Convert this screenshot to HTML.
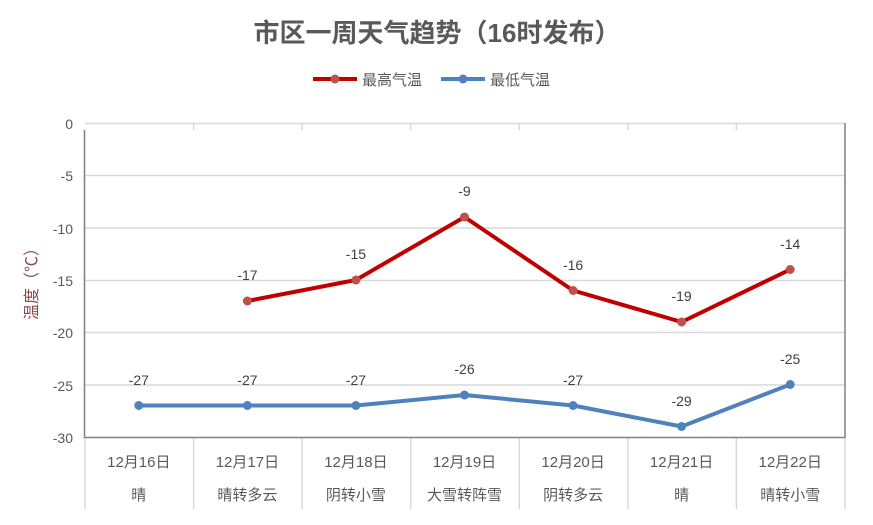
<!DOCTYPE html>
<html><head><meta charset="utf-8"><style>
body{margin:0;background:#fff}
svg text{font-family:"Liberation Sans","Noto Sans CJK SC",sans-serif}
</style></head><body>
<svg width="873" height="520" xmlns="http://www.w3.org/2000/svg">
<rect width="873" height="520" fill="#fff"/>
<text x="437" y="42" text-anchor="middle" font-size="26" fill="#595959" font-weight="bold">市区一周天气趋势（16时发布）</text>
<line x1="313" y1="79" x2="357" y2="79" stroke="#c00000" stroke-width="4"/>
<circle cx="335" cy="79" r="4.5" fill="#c0504d"/>
<text x="362" y="85" font-size="15" fill="#595959">最高气温</text>
<line x1="441" y1="79" x2="485" y2="79" stroke="#4f81bd" stroke-width="4"/>
<circle cx="463" cy="79" r="4.5" fill="#4f81bd"/>
<text x="490" y="85" font-size="15" fill="#595959">最低气温</text>
<g stroke="#d9d9d9" stroke-width="1.5">
<line x1="85" y1="123.5" x2="845" y2="123.5"/>
<line x1="85" y1="175.5" x2="845" y2="175.5"/>
<line x1="85" y1="228" x2="845" y2="228"/>
<line x1="85" y1="280.5" x2="845" y2="280.5"/>
<line x1="85" y1="332.5" x2="845" y2="332.5"/>
<line x1="85" y1="385" x2="845" y2="385"/>
<g>
<line x1="193.6" y1="123" x2="193.6" y2="130"/><line x1="302.1" y1="123" x2="302.1" y2="130"/><line x1="410.7" y1="123" x2="410.7" y2="130"/><line x1="519.3" y1="123" x2="519.3" y2="130"/><line x1="627.9" y1="123" x2="627.9" y2="130"/><line x1="736.4" y1="123" x2="736.4" y2="130"/>
<line x1="85" y1="438" x2="85" y2="509"/><line x1="193.6" y1="438" x2="193.6" y2="509"/><line x1="302.1" y1="438" x2="302.1" y2="509"/><line x1="410.7" y1="438" x2="410.7" y2="509"/><line x1="519.3" y1="438" x2="519.3" y2="509"/><line x1="627.9" y1="438" x2="627.9" y2="509"/><line x1="736.4" y1="438" x2="736.4" y2="509"/><line x1="845" y1="438" x2="845" y2="509"/>
</g></g>
<line x1="84.5" y1="130" x2="84.5" y2="438" stroke="#808080" stroke-width="1.5"/>
<line x1="845" y1="123" x2="845" y2="438" stroke="#808080" stroke-width="1.5"/>
<line x1="84" y1="437.5" x2="845" y2="437.5" stroke="#808080" stroke-width="1.5"/>
<g font-size="14" fill="#595959" text-anchor="end">
<text x="73" y="129">0</text><text x="73" y="181">-5</text><text x="73" y="234">-10</text><text x="73" y="286">-15</text><text x="73" y="338">-20</text><text x="73" y="391">-25</text><text x="73" y="443">-30</text>
</g>
<text transform="translate(37,280) rotate(-90)" text-anchor="middle" font-size="16" fill="#8b4a4a">温度（℃）</text>
<polyline points="247.4,301 355.9,280 464.5,217 573.1,290.5 681.6,322 790.2,269.5" fill="none" stroke="#c00000" stroke-width="4" stroke-linejoin="round"/>
<g fill="#c0504d"><circle cx="247.4" cy="301" r="4.5"/><circle cx="355.9" cy="280" r="4.5"/><circle cx="464.5" cy="217" r="4.5"/><circle cx="573.1" cy="290.5" r="4.5"/><circle cx="681.6" cy="322" r="4.5"/><circle cx="790.2" cy="269.5" r="4.5"/></g>
<polyline points="138.8,405.5 247.4,405.5 355.9,405.5 464.5,395 573.1,405.5 681.6,426.5 790.2,384.5" fill="none" stroke="#4f81bd" stroke-width="4" stroke-linejoin="round"/>
<g fill="#4f81bd"><circle cx="138.8" cy="405.5" r="4.5"/><circle cx="247.4" cy="405.5" r="4.5"/><circle cx="355.9" cy="405.5" r="4.5"/><circle cx="464.5" cy="395" r="4.5"/><circle cx="573.1" cy="405.5" r="4.5"/><circle cx="681.6" cy="426.5" r="4.5"/><circle cx="790.2" cy="384.5" r="4.5"/></g>
<g font-size="14" fill="#404040" text-anchor="middle">
<text x="247.4" y="280">-17</text><text x="355.9" y="259">-15</text><text x="464.5" y="196">-9</text><text x="573.1" y="270">-16</text><text x="681.6" y="301">-19</text><text x="790.2" y="249">-14</text>
<text x="138.8" y="385">-27</text><text x="247.4" y="385">-27</text><text x="355.9" y="385">-27</text><text x="464.5" y="374">-26</text><text x="573.1" y="385">-27</text><text x="681.6" y="406">-29</text><text x="790.2" y="364">-25</text>
</g>
<g font-size="15" fill="#595959" text-anchor="middle">
<text x="138.8" y="467">12月16日</text><text x="247.4" y="467">12月17日</text><text x="355.9" y="467">12月18日</text><text x="464.5" y="467">12月19日</text><text x="573.1" y="467">12月20日</text><text x="681.6" y="467">12月21日</text><text x="790.2" y="467">12月22日</text>
<text x="138.8" y="500">晴</text><text x="247.4" y="500">晴转多云</text><text x="355.9" y="500">阴转小雪</text><text x="464.5" y="500">大雪转阵雪</text><text x="573.1" y="500">阴转多云</text><text x="681.6" y="500">晴</text><text x="790.2" y="500">晴转小雪</text>
</g>
</svg>
</body></html>
